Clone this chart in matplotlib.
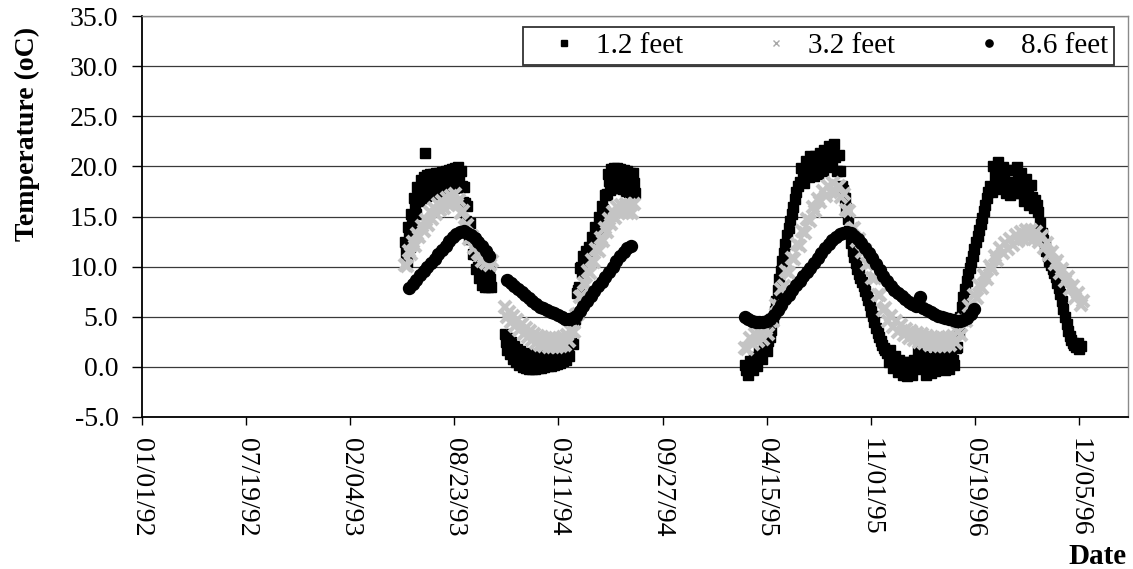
import matplotlib
matplotlib.use('Agg')
import matplotlib.pyplot as plt
from matplotlib.lines import Line2D
import numpy as np
import pandas as pd

plt.rcParams['font.family'] = ['Liberation Serif', 'DejaVu Serif']

# ---------------- data ----------------
# segment start dates (sampling: 1.2 ft every 2/2/3 days, 3.2 ft every 4/4/5 days, 8.6 ft weekly)
seg_a_start = '1993-05-20'
seg_b_start = '1993-11-28'
seg_c_start = '1995-03-04'
seg_a_start_86 = '1993-05-28'
seg_b_start_86 = '1993-12-02'
seg_c_start_86 = '1995-03-04'

t12_a = [12.5, 11.5, 10.5, 14.0, 13.0, 12.0, 15.2, 14.5, 13.9, 16.8, 16.0, 15.2, 17.9, 17.2,
         16.5, 18.6, 17.7, 16.8, 18.9, 21.3, 17.0, 19.1, 18.1, 17.1, 19.2, 18.2, 17.2, 19.2,
         18.2, 17.2, 19.3, 18.3, 17.3, 19.3, 18.3, 17.4, 19.4, 18.4, 17.5, 19.5, 18.5, 17.6,
         19.6, 18.6, 17.7, 19.7, 18.7, 17.8, 19.8, 18.8, 17.9, 19.9, 19.0, 17.9, 19.5, 18.0,
         16.4, 17.9, 16.3, 14.6, 16.0, 14.3, 12.8, 14.4, 12.8, 11.3, 12.8, 11.3, 9.8, 11.2,
         10.0, 8.9, 10.2, 9.1, 8.2, 9.7, 8.9, 8.0, 9.6, 8.8, 8.0, 9.6, 8.8, 8.0]
t12_b = [3.3, 2.5, 1.7, 2.9, 2.1, 1.3, 2.5, 1.7, 0.8, 2.1, 1.3, 0.5, 1.8, 1.0, 0.2, 1.6,
         0.8, 0.0, 1.4, 0.6, -0.1, 1.3, 0.5, -0.2, 1.2, 0.5, -0.2, 1.2, 0.5, -0.2, 1.3, 0.6,
         -0.1, 1.3, 0.6, -0.1, 1.4, 0.7, 0.0, 1.4, 0.7, 0.1, 1.5, 0.8, 0.1, 1.5, 0.9, 0.2,
         1.6, 1.0, 0.3, 1.7, 1.1, 0.4, 1.9, 1.2, 0.6, 2.0, 1.4, 0.7, 2.2, 1.6, 1.1, 2.6,
         2.4, 2.3, 4.4, 4.8, 5.2, 7.4, 7.7, 8.0, 9.9, 10.0, 9.4, 11.1, 10.5, 9.8, 11.6, 10.9,
         10.3, 12.0, 11.6, 11.3, 13.0, 12.7, 12.3, 14.0, 13.8, 13.5, 15.0, 14.7, 14.4, 16.0,
         15.7, 15.5, 17.1, 17.1, 17.2, 19.2, 18.5, 17.6, 19.7, 18.8, 17.8, 19.8, 18.8, 17.8,
         19.8, 18.8, 17.8, 19.7, 18.7, 17.7, 19.6, 18.6, 17.5, 19.5, 18.4, 17.4, 19.3, 18.3,
         17.3, 19.3, 18.3, 17.3]
t12_c = [0.2, -0.3, -0.8, 0.6, 0.1, -0.3, 1.0, 0.6, 0.1, 1.5, 1.1, 0.8, 2.2, 1.9, 1.6,
         2.6, 3.0, 3.7, 4.6, 5.6, 6.6, 7.7, 8.8, 9.6, 10.6, 11.4, 12.3, 13.2, 13.9, 14.6,
         15.2, 15.9, 16.7, 17.4, 18.0, 18.4,
         19.8, 19.1, 18.3, 20.5, 19.7, 18.9, 21.0, 20.0, 19.0, 21.0, 20.1, 19.2, 21.3, 20.4,
         19.5, 21.6, 20.7, 19.9, 22.0, 21.2, 20.3, 22.2, 20.9, 19.5, 21.1, 19.5,
         18.0, 17.6, 16.8, 15.8, 14.8, 13.6, 12.4, 11.6, 11.0, 10.4, 9.8, 9.3, 8.9, 8.5, 8.1,
         7.6, 7.2, 6.7, 6.2, 5.6, 5.1, 4.5, 3.9, 3.4, 3.0, 2.6, 2.2, 1.9, 1.7,
         1.4, 0.5, 1.7, 0.8, -0.1, 1.1, 0.3, -0.5, 0.7, -0.1, -0.8, 0.5, -0.2, -0.9, 0.5,
         -0.2, -0.8, 0.7, 0.1, -0.2, 1.6, 1.2, 0.1, 1.1, 0.0, -0.8, 0.7, 0.1, -0.6, 0.9,
         0.3, -0.4, 1.1, 0.5, -0.2, 1.2, 0.4, -0.3, 1.1, 0.5, -0.2, 1.3, 0.7, 0.2, 1.9,
         2.0, 3.5, 5.0, 6.0, 7.0, 7.8, 8.6, 9.3, 9.9, 10.5, 11.1, 11.8, 12.5, 13.1, 13.7,
         14.3, 14.9, 15.5, 16.1, 16.8, 17.4,
         18.0, 17.4, 20.0, 19.0, 17.9, 20.4, 19.0, 17.7, 19.9, 18.6, 17.3, 19.6, 18.3, 17.1,
         19.6, 18.4, 17.3, 19.9, 18.8, 17.3, 19.3, 17.9, 16.5, 18.7, 17.4, 16.1, 18.1, 16.9,
         15.8,
         16.6, 16.1, 15.4, 14.4, 13.4, 12.7, 12.1, 11.6, 11.1, 10.6, 10.2, 9.8, 9.4, 9.0,
         8.4, 7.9, 7.3, 6.6, 5.8, 5.0, 4.3, 3.6, 3.1, 2.7, 2.4, 2.2, 2.0, 2.4, 1.8, 2.1]

t32_a = [10.2, 10.1, 11.6, 11.3, 12.5, 12.1, 13.3, 13.0, 14.1, 13.6, 14.7, 14.2, 15.4, 14.8,
         15.8, 15.2, 16.2, 15.6, 16.5, 15.8, 16.8, 16.1, 17.0, 16.3, 17.2, 16.2, 16.6, 15.3,
         15.5, 14.0, 14.2, 12.8, 13.1, 11.9, 12.4, 11.4, 11.2, 10.6, 11.0, 10.4, 10.8, 10.2,
         10.6]
t32_b = [6.0, 5.0, 5.5, 4.5, 5.1, 4.1, 4.7, 3.7, 4.3, 3.3, 3.9, 3.0, 3.6, 2.7, 3.3, 2.4,
         3.1, 2.2, 3.0, 2.1, 2.9, 2.0, 2.8, 2.0, 2.8, 2.0, 2.9, 2.1, 3.0, 2.2, 3.2, 2.6,
         3.6, 3.5, 5.2, 5.3, 7.0, 7.1, 8.4, 8.2, 9.6, 9.4, 10.7, 10.5, 11.8, 11.6, 12.9,
         12.6, 13.9, 13.5, 14.8, 14.3, 15.4, 14.9, 15.9, 15.3, 16.1, 15.4, 16.2, 15.3, 16.1,
         15.3, 16.2]
t32_c = [1.9, 1.8, 2.9, 2.3, 3.3, 2.6, 3.4, 2.8, 3.8, 3.3, 4.6, 4.6, 6.2, 6.1, 7.8, 8.1,
         9.6, 9.4, 10.9, 10.8, 12.3, 12.1, 13.6, 13.4, 14.8, 14.6, 15.9, 15.5, 16.7, 16.4,
         17.5, 17.0, 18.0, 17.4, 18.3, 17.4, 18.0, 16.9, 17.2, 15.6, 15.5, 13.8, 13.9, 12.6,
         12.8, 11.5, 11.7, 10.3, 10.4, 8.9, 8.9, 7.2, 7.2, 5.7, 5.9, 4.6, 5.1, 4.0, 4.6, 3.5,
         4.2, 3.2, 3.8, 2.9, 3.6, 2.7, 3.4, 2.5, 3.3, 2.4, 3.1, 2.2, 3.0, 2.1, 2.9, 2.1, 2.9,
         2.1, 3.0, 2.2, 3.1, 2.4, 3.5, 3.2, 4.7, 4.6, 6.1, 5.9, 7.2, 6.9, 8.2, 7.9, 9.2, 8.8,
         10.1, 9.8, 11.1, 10.7, 11.9, 11.4, 12.4, 11.8, 12.8, 12.2, 13.2, 12.6, 13.5, 12.8,
         13.7, 12.9, 13.7, 12.8, 13.5, 12.5, 13.1, 11.9, 12.4, 11.2, 11.5, 10.3, 10.6, 9.4,
         9.8, 8.6, 9.0, 7.8, 8.1, 6.9, 7.4, 6.2, 6.6]

t86_a = [7.9, 8.3, 8.7, 9.2, 9.6, 10.0, 10.4, 10.8, 11.3, 11.7, 12.1, 12.6, 13.0, 13.3,
         13.5, 13.6, 13.4, 13.2, 12.9, 12.5, 12.1, 11.6, 11.1]
t86_b = [8.7, 8.4, 8.1, 7.8, 7.5, 7.2, 6.9, 6.6, 6.3, 6.0, 5.9, 5.7, 5.5, 5.4, 5.2, 5.0,
         4.8, 4.8, 4.9, 5.1, 5.6, 6.1, 6.6, 7.1, 7.6, 8.1, 8.5, 9.0, 9.5, 10.0, 10.6, 11.1,
         11.5, 11.9, 12.1]
t86_c = [5.0, 4.8, 4.6, 4.5, 4.5, 4.5, 4.6, 4.8, 5.2, 5.7, 6.2, 6.8, 7.2, 7.7, 8.2, 8.6,
         9.1, 9.5, 9.9, 10.4, 10.9, 11.4, 11.9, 12.3, 12.7, 13.0, 13.3, 13.4, 13.5, 13.4,
         13.1, 12.8, 12.4, 11.9, 11.4, 10.9, 10.3, 9.7, 9.1, 8.6, 8.1, 7.7, 7.4, 7.1, 6.8,
         6.5, 6.3, 6.1, 7.0, 5.9, 5.7, 5.5, 5.3, 5.1, 5.0, 4.9, 4.8, 4.7, 4.6, 4.6, 4.7,
         4.9, 5.3, 5.8]

series_names = ['1.2 feet', '3.2 feet', '8.6 feet']
x_tick_labels = ['01/01/92', '07/19/92', '02/04/93', '08/23/93', '03/11/94',
                 '09/27/94', '04/15/95', '11/01/95', '05/19/96', '12/05/96']
y_ticks = [-5, 0, 5, 10, 15, 20, 25, 30, 35]
x_limits = ['1992-01-01', '1997-03-09']


def dates(start, n, step):
    return pd.date_range(start, periods=n, freq=f'{step}D')

d12 = np.concatenate([dates(seg_a_start, len(t12_a), 2),
                      dates(seg_b_start, len(t12_b), 2),
                      dates(seg_c_start, len(t12_c), 3)])
v12 = np.array(t12_a + t12_b + t12_c)
d32 = np.concatenate([dates(seg_a_start, len(t32_a), 4),
                      dates(seg_b_start, len(t32_b), 4),
                      dates(seg_c_start, len(t32_c), 5)])
v32 = np.array(t32_a + t32_b + t32_c)
d86 = np.concatenate([dates(seg_a_start_86, len(t86_a), 7),
                      dates(seg_b_start_86, len(t86_b), 7),
                      dates(seg_c_start_86, len(t86_c), 7)])
v86 = np.array(t86_a + t86_b + t86_c)

# ---------------- figure ----------------
W, H = 1133, 569
fig = plt.figure(figsize=(W / 100, H / 100), dpi=100)
ax = fig.add_axes([142 / W, 1 - 417 / H, (1128 - 142) / W, (417 - 16) / H])

ax.plot(d12, v12, linestyle='none', marker='s', ms=7.0, color='black', mec='black',
        zorder=3)
ax.plot(d32, v32, linestyle='none', marker='x', ms=8.0, mew=3.0, color='#c4c4c4',
        zorder=4)
ax.plot(d86, v86, linestyle='none', marker='o', ms=8.6, color='black', mec='black',
        zorder=5)

ax.set_ylim(-5, 35)
ax.set_yticks(y_ticks)
ax.set_yticklabels([f'{v:.1f}' for v in y_ticks])
ax.set_xlim(pd.Timestamp(x_limits[0]), pd.Timestamp(x_limits[1]))
tick_dates = pd.to_datetime(x_tick_labels, format='%m/%d/%y')
ax.set_xticks(tick_dates)
ax.set_xticklabels(x_tick_labels, rotation=-90, ha='center', va='top')

ax.yaxis.grid(True, color='#3a3a3a', linewidth=0.9)
ax.set_axisbelow(True)

for s in ['left', 'bottom']:
    ax.spines[s].set_color('black')
    ax.spines[s].set_linewidth(1.3)
for s in ['top', 'right']:
    ax.spines[s].set_color('#8a8a8a')
    ax.spines[s].set_linewidth(1.0)

ax.tick_params(axis='y', direction='out', length=7, width=1, pad=10, labelsize=20)
ax.tick_params(axis='x', direction='out', length=6, width=1, pad=9, labelsize=20)

fig.text(27 / W, 1 - 134 / H, 'Temperature (oC)', rotation=90, ha='center', va='center',
         fontsize=20, fontweight='bold')
fig.text(1127 / W, 1 - 556 / H, 'Date', ha='right', va='center', fontsize=21,
         fontweight='bold')

handles = [
    Line2D([], [], linestyle='none', marker='s', ms=4.8, color='black'),
    Line2D([], [], linestyle='none', marker='x', ms=4.0, mew=1.0, color='#a8a8a8'),
    Line2D([], [], linestyle='none', marker='o', ms=5.2, color='black'),
]
leg = ax.legend(handles, series_names, loc='upper left', bbox_to_anchor=(523 / W, 1 - 27 / H),
                bbox_transform=fig.transFigure, ncol=3, fontsize=21, frameon=True,
                fancybox=False, edgecolor='black', borderpad=0.2, handlelength=2.4,
                handletextpad=-0.1, columnspacing=2.0, borderaxespad=0)
leg.get_frame().set_linewidth(1.3)

fig.savefig('out.png', dpi=100)
